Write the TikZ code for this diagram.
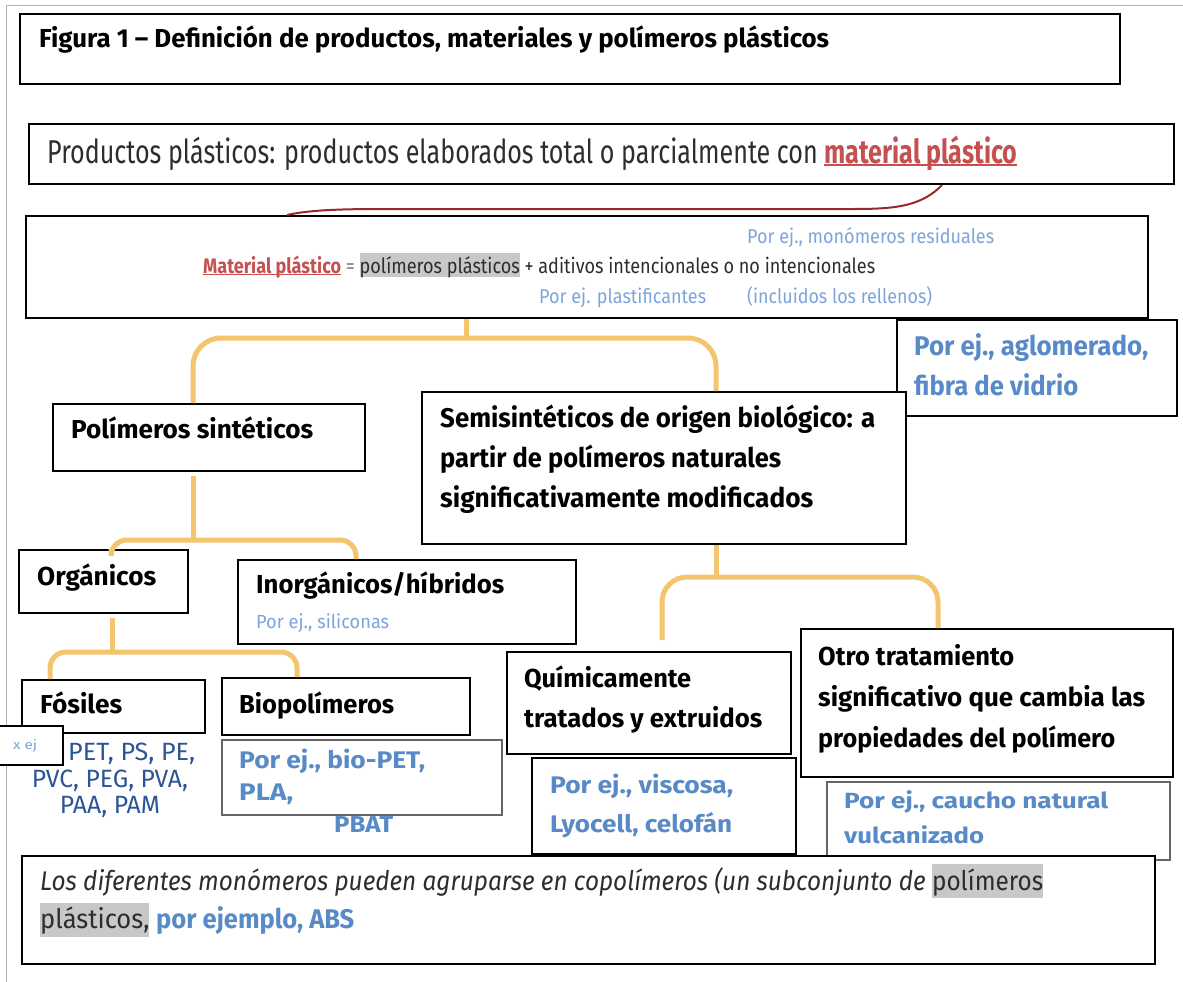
\documentclass[tikz,border=0pt]{standalone}
\usepackage{fontspec}
\usepackage{graphicx}
\setmainfont{Fira Sans}
\usetikzlibrary{calc}
\definecolor{redtxt}{RGB}{198,80,80}
\definecolor{darkred}{RGB}{155,40,40}
\definecolor{lblue}{RGB}{125,165,218}
\definecolor{bblue}{RGB}{88,138,200}
\definecolor{navy}{RGB}{44,84,150}
\definecolor{orng}{RGB}{242,197,110}
\definecolor{hlgray}{RGB}{200,200,200}
\definecolor{txt}{RGB}{45,45,45}
\definecolor{framec}{RGB}{175,175,175}
\newsavebox\mysb
\newcommand\myul[1]{\sbox\mysb{#1}\rlap{\rule[-0.1em]{\wd\mysb}{0.075em}}\usebox\mysb}
\newcommand\myhl[3]{\sbox\mysb{#3}\rlap{\textcolor{hlgray}{\rule[-#1em]{\wd\mysb}{#2em}}}\usebox\mysb}
\newcommand\fw[2]{\resizebox{#1pt}{\height}{#2}}
\begin{document}
\begin{tikzpicture}[x=1pt,y=-1pt,
 box/.style={draw=black, line width=2pt, fill=white, inner sep=0, anchor=north west},
 gbox/.style={box, draw=black!60},
 branch/.style={draw=orng, line width=5pt},
 tx/.style={anchor=base west, inner sep=0, align=left, text=txt},
 hd/.style={tx, text=black, font=\fontsize{26}{40}\selectfont\bfseries},
 exs/.style={tx, text=lblue, font=\fontsize{20}{24}\selectfont},
 exb/.style={tx, text=bblue, font=\fontsize{24}{32}\selectfont\bfseries},
]
\useasboundingbox (0,0) rectangle (1183,982);
\fill[white] (0,0) rectangle (1183,982);
\draw[framec, line width=1pt] (6,982) -- (6,6) -- (1183,6);

% boxes
\node[box, minimum width=1100pt, minimum height=70pt] (title) at (19,13) {};
\node[box, minimum width=1145pt, minimum height=60pt] (prod) at (28,123) {};
\node[box, minimum width=1122pt, minimum height=102pt] (mat) at (25,215) {};
\node[box, minimum width=280pt, minimum height=96pt] (aglo) at (896,319) {};
\node[box, minimum width=484pt, minimum height=152pt] (semi) at (421,391) {};
\node[box, minimum width=312pt, minimum height=67pt] (pol) at (52,403) {};
\node[box, minimum width=169pt, minimum height=63pt] (org) at (18,549) {};
\node[box, minimum width=338pt, minimum height=84pt] (inorg) at (237,559) {};
\node[box, minimum width=183pt, minimum height=53pt] (fos) at (21,679) {};
\node[box, minimum width=68pt, minimum height=39pt] (xej) at (-6,725) {};
\node[box, minimum width=248pt, minimum height=57pt] (bio) at (221,677) {};
\node[gbox, minimum width=280pt, minimum height=75pt] (biopet) at (221,739) {};
\node[box, minimum width=284pt, minimum height=102pt] (quim) at (506,651) {};
\node[box, minimum width=264pt, minimum height=96pt] (visc) at (531,757) {};
\node[box, minimum width=372pt, minimum height=148pt] (otro) at (800,628) {};
\node[gbox, minimum width=343pt, minimum height=78pt] (cau) at (826,781) {};
\node[box, minimum width=1133pt, minimum height=108pt] (bot) at (21,855) {};

% red connector
\coordinate (c1) at (942,0);
\coordinate (c2) at (287,0);
\draw[darkred, line width=2pt] (prod.south -| c1) .. controls (918,210) and (885,209) .. (840,209) -- (380,209) .. controls (330,209) and (305,211) .. (mat.north -| c2);

% orange branches
\coordinate (j1) at (466,338);
\coordinate (l1) at (193,0);
\coordinate (r1) at (716,0);
\draw[branch] (mat.south -| j1) -- (j1);
\draw[branch, rounded corners=28pt] (pol.north -| l1) |- (j1) -| (semi.north -| r1);
\coordinate (j2) at (193,540);
\coordinate (p2) at (193,476);
\coordinate (l2) at (111,0);
\coordinate (r2) at (356,0);
\draw[branch] (p2) -- (j2);
\draw[branch, rounded corners=16pt] (org.north -| l2) |- (j2) -| (inorg.north -| r2);
\coordinate (j3) at (112,652);
\coordinate (p3) at (112,618);
\coordinate (l3) at (50,0);
\coordinate (r3) at (297,0);
\draw[branch] (p3) -- (j3);
\draw[branch, rounded corners=16pt] (fos.north -| l3) |- (j3) -| (bio.north -| r3);
\coordinate (j4) at (716,577);
\coordinate (q1) at (662,640);
\coordinate (r4) at (938,0);
\draw[branch] (semi.south -| j4) -- (j4);
\draw[branch, rounded corners=25pt] (q1) |- (j4) -| (otro.north -| r4);

% texts (multi-line nodes: base = baseline of last line)
\node[hd] (titleT) at (39,48) {\fw{790}{Figura 1 – Definición de productos, materiales y polímeros plásticos}};
\node[tx, font=\fontsize{33}{40}\selectfont] (prodT) at (47,163) {\fw{970}{Productos plásticos: productos elaborados total o parcialmente con \textcolor{redtxt}{\bfseries\myul{material plástico}}}};
\node[exs] (matA) at (747,243) {\fw{247}{Por ej., monómeros residuales}};
\node[tx, font=\fontsize{21}{24}\selectfont] (matB) at (203,273) {\fw{672}{\textcolor{redtxt}{\bfseries\myul{Material plástico}} \textcolor{gray}{=} \myhl{0.19}{1.14}{polímeros plásticos} + aditivos intencionales o no intencionales}};
\node[exs] (matC) at (539,303) {\fw{167}{Por ej. plastificantes}};
\node[exs] (matD) at (747,303) {\fw{185}{(incluidos los rellenos)}};

\node[hd, text=bblue, font=\fontsize{27}{40}\selectfont\bfseries] (agloT) at (914,395) {\fw{234}{Por ej., aglomerado,}\\\fw{164}{fibra de vidrio}};
\node[hd] (polT) at (71,438) {\fw{242}{Polímeros sintéticos}};
\node[hd, font=\fontsize{27}{40}\selectfont\bfseries] (semiT) at (440,507) {\fw{435}{Semisintéticos de origen biológico: a}\\\fw{341}{partir de polímeros naturales}\\\fw{373}{significativamente modificados}};
\node[hd] (orgT) at (37,585) {\fw{119}{Orgánicos}};
\node[hd] (inorgT) at (256,593) {\fw{248}{Inorgánicos/híbridos}};
\node[exs, font=\fontsize{19}{24}\selectfont] (inorgE) at (256,628) {\fw{133}{Por ej., siliconas}};
\node[hd] (fosT) at (40,713) {\fw{82}{Fósiles}};
\node[exs, font=\fontsize{13}{16}\selectfont] (xejT) at (13,749) {\fw{24}{x ej}};
\node[tx, text=navy, font=\fontsize{25}{27}\selectfont] (petA) at (68,760) {\fw{127}{PET, PS, PE,}};
\node[tx, text=navy, font=\fontsize{25}{26}\selectfont, align=center, anchor=base] (petB) at (110,813) {\fw{156}{PVC, PEG, PVA,}\\\fw{100}{PAA, PAM}};
\node[hd] (bioT) at (239,713) {\fw{155}{Biopolímeros}};
\node[exb] (biopetT) at (239,800) {\fw{186}{Por ej., bio-PET,}\\\fw{54}{PLA,}};
\node[exb, font=\fontsize{23}{30}\selectfont\bfseries] (pbat) at (334,832) {\fw{59}{PBAT}};
\node[hd] (quimT) at (524,727) {\fw{167}{Químicamente}\\\fw{238}{tratados y extruidos}};
\node[exb, font=\fontsize{24}{39}\selectfont\bfseries] (viscT) at (550,832) {\fw{183}{Por ej., viscosa,}\\\fw{182}{Lyocell, celofán}};
\node[hd, font=\fontsize{26}{41}\selectfont\bfseries] (otroT) at (818,747) {\fw{196}{Otro tratamiento}\\\fw{327}{significativo que cambia las}\\\fw{297}{propiedades del polímero}};
\node[exb, font=\fontsize{22}{35}\selectfont\bfseries] (cauT) at (844,843) {\fw{264}{Por ej., caucho natural}\\\fw{140}{vulcanizado}};
\node[tx, font=\fontsize{27}{38}\selectfont] (botT) at (40,928) {\fw{1003}{\itshape Los diferentes monómeros pueden agruparse en copolímeros (un subconjunto de \upshape\myhl{0.3}{1.26}{polímeros}}\\\fw{314}{\myhl{0.33}{1.26}{plásticos,} \textcolor{bblue}{\bfseries por ejemplo, ABS}}};
\end{tikzpicture}
\end{document}
